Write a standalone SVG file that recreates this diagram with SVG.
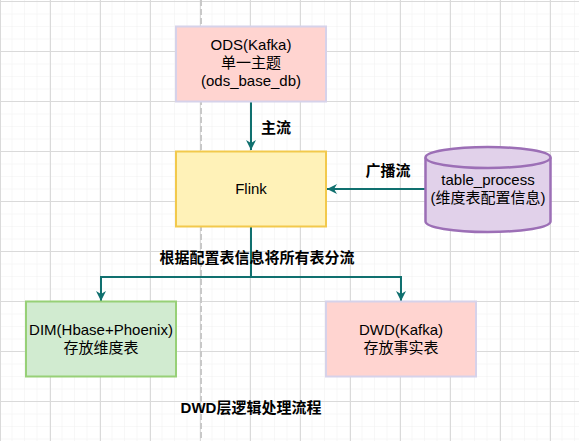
<svg xmlns="http://www.w3.org/2000/svg" width="579" height="441" viewBox="0 0 579 441">
<style>
.t{font-family:"Liberation Sans",Arial,"Noto Sans CJK SC",sans-serif;font-size:15px;fill:#000;text-anchor:middle}
.b{font-weight:bold}
.edge{fill:none;stroke:#10706f;stroke-width:2}
</style>
<defs>
<pattern id="minor" width="12.5" height="12.5" patternUnits="userSpaceOnUse" y="1">
<path d="M12.5 0V12.5M0 12.5H12.5" fill="none" stroke="#f0f0f0" stroke-width="1"/>
</pattern>
<pattern id="major" width="50" height="50" patternUnits="userSpaceOnUse" y="1">
<rect width="50" height="50" fill="url(#minor)"/>
<path d="M0.5 0V50M0 0.5H50" fill="none" stroke="#dadada" stroke-width="1"/>
</pattern>
<marker id="arr" viewBox="0 0 10 10" refX="10" refY="5" markerWidth="10" markerHeight="10" markerUnits="userSpaceOnUse" orient="auto">
<path d="M0 0L10 5L0 10L3 5Z" fill="#10706f"/>
</marker>
</defs>
<rect width="579" height="441" fill="#fff"/>
<rect width="579" height="441" fill="url(#major)"/>
<line x1="201" y1="0" x2="201" y2="441" stroke="#c8c8c8" stroke-width="2" stroke-dasharray="6 3"/>
<g id="connectors">
<path class="edge" d="M251 101V150" marker-end="url(#arr)"/>
<path class="edge" d="M425 189H327" marker-end="url(#arr)"/>
<path class="edge" d="M251 226V277H101V301" marker-end="url(#arr)"/>
<path class="edge" d="M251 277H401V301" marker-end="url(#arr)"/>
<text class="t b" x="276" y="133">主流</text>
<text class="t b" x="388" y="176">广播流</text>
<text class="t b" x="257" y="263">根据配置表信息将所有表分流</text>
</g>
<g id="ods">
<rect x="176" y="26.5" width="150" height="75" fill="#ffd4d0" stroke="#d6d2ea" stroke-width="2"/>
<text class="t" x="251" y="50">ODS(Kafka)</text>
<text class="t" x="251" y="68">单一主题</text>
<text class="t" x="251" y="86">(ods_base_db)</text>
</g>
<g id="flink">
<rect x="176" y="151.5" width="150" height="75" fill="#fff2b8" stroke="#f2c94c" stroke-width="2"/>
<text class="t" x="251" y="194">Flink</text>
</g>
<g id="table_process">
<path d="M425.5 157.5A62.5 10.5 0 0 1 550.5 157.5V221.5A62.5 10.5 0 0 1 425.5 221.5Z" fill="#e1d1ea" stroke="#9c6fb6" stroke-width="2.5"/>
<path d="M425.5 157.5A62.5 10.5 0 0 0 550.5 157.5" fill="none" stroke="#9c6fb6" stroke-width="2.5"/>
<text class="t" x="488" y="185">table_process</text>
<text class="t" x="488" y="203">(维度表配置信息)</text>
</g>
<g id="dim">
<rect x="26" y="301.5" width="150" height="75" fill="#d1ebd0" stroke="#97d077" stroke-width="2"/>
<text class="t" x="101" y="335">DIM(Hbase+Phoenix)</text>
<text class="t" x="101" y="353">存放维度表</text>
</g>
<g id="dwd">
<rect x="326" y="301.5" width="150" height="75" fill="#ffd4d0" stroke="#d6d2ea" stroke-width="2"/>
<text class="t" x="401" y="335">DWD(Kafka)</text>
<text class="t" x="401" y="353">存放事实表</text>
</g>
<text class="t b" x="251" y="413">DWD层逻辑处理流程</text>
</svg>
